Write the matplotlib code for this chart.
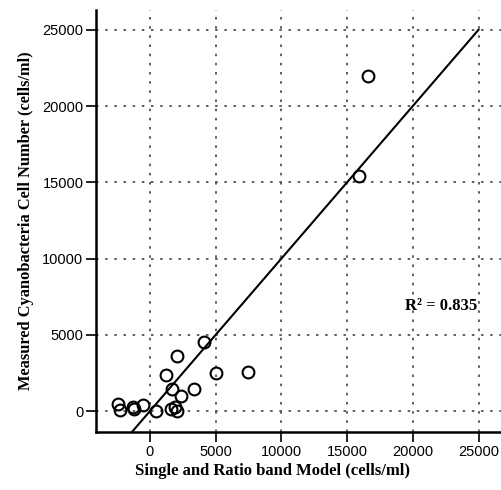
import numpy as np
import matplotlib.pyplot as plt

# model estimate (x) vs measured count (y), cells/ml
model_vals = [4110, 2080, 1190, 5020, 3370, 1700, 2380, -2410, -2280, -1320,
              -1240, -560, 460, 1600, 1900, 2080, 7460, 16570, 15900]
measured_vals = [4520, 3620, 2370, 2520, 1470, 1430, 990, 460, 66, 240,
                 110, 395, 20, 110, 240, 20, 2590, 21950, 15390]
fit_x = [-1500, 25000]
fit_y = [-1500, 25000]
ticks = [0, 5000, 10000, 15000, 20000, 25000]
r2_text = "R\u00b2 = 0.835"

fig = plt.figure(figsize=(5.02, 4.90), dpi=100)
ax = fig.add_axes([0.191, 0.118, 0.807, 0.862])

ax.plot(fit_x, fit_y, color='black', lw=1.5, zorder=3)
ax.plot(model_vals, measured_vals, 'o', mfc='none', mec='black', ms=8.5, mew=1.5, zorder=4)

ax.set_xlim(-4110, 26710)
ax.set_ylim(-1380, 26310)
ax.set_xticks(ticks)
ax.set_yticks(ticks)
ax.grid(True, ls=(0, (1.5, 4)), color='#444444', lw=1.2)

for s in ['top', 'right']:
    ax.spines[s].set_visible(False)
for s in ['left', 'bottom']:
    ax.spines[s].set_linewidth(1.8)

ax.tick_params(direction='out', length=7, width=1.2, labelsize=10.5, pad=2)
for lab in ax.get_xticklabels() + ax.get_yticklabels():
    lab.set_family('Liberation Sans')

ax.set_xlabel('Single and Ratio band Model (cells/ml)', family='Liberation Serif',
              fontweight='bold', fontsize=12, labelpad=3)
ax.xaxis.set_label_coords(0.437, -0.073)
ax.set_ylabel('Measured Cyanobacteria Cell Number (cells/ml)', family='Liberation Serif',
              fontweight='bold', fontsize=11.8, labelpad=6)

ax.text(22180, 6900, r2_text, family='Liberation Serif', fontweight='bold',
        fontsize=12, ha='center', va='center')

fig.savefig('out.png', dpi=100)
